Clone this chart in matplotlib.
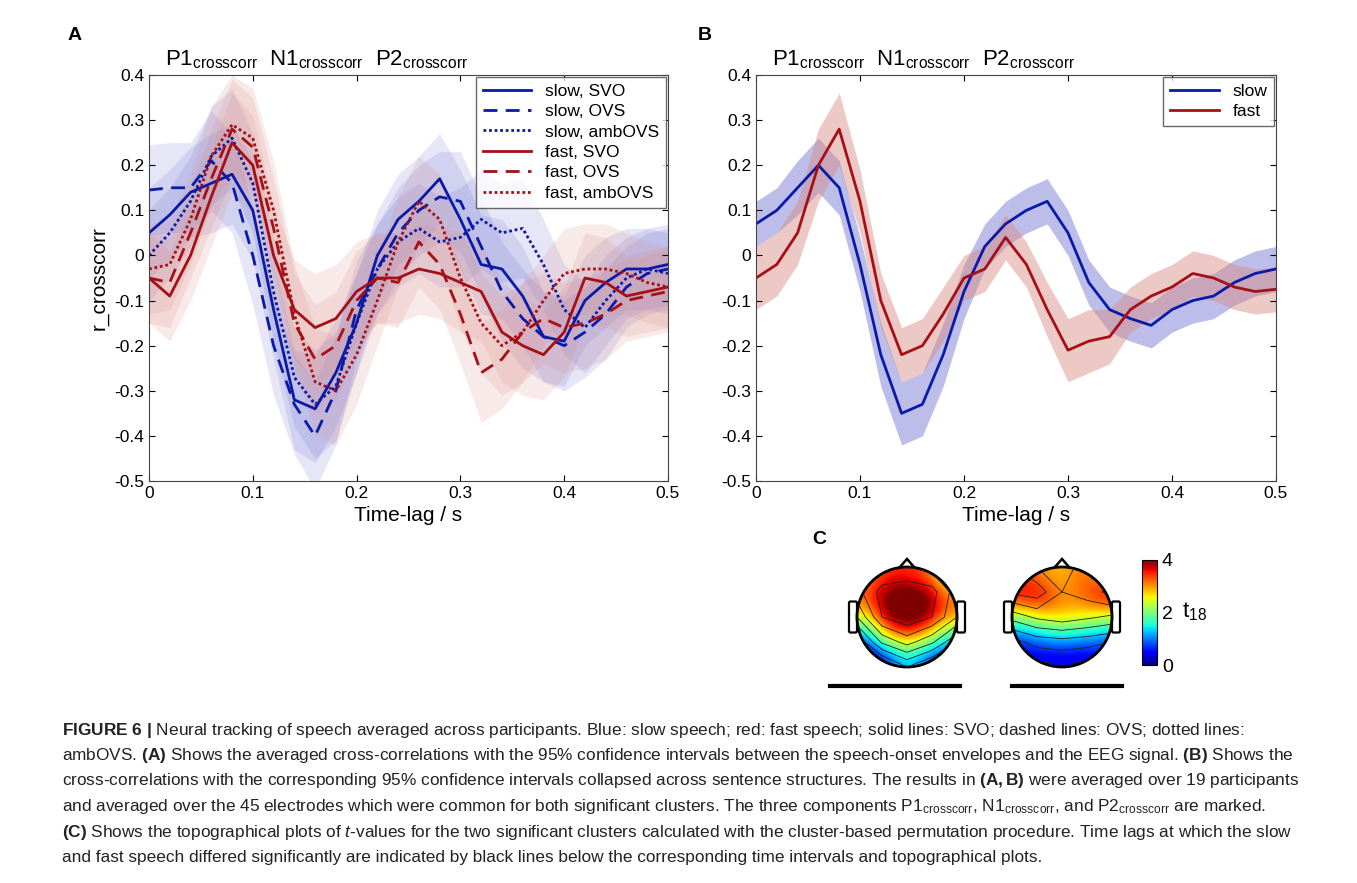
import numpy as np
import matplotlib
matplotlib.use("Agg")
import matplotlib.pyplot as plt
from matplotlib.patches import Circle, Polygon, FancyBboxPatch

plt.rcParams['font.family'] = ['Liberation Sans', 'DejaVu Sans']
plt.rcParams['mathtext.fontset'] = 'custom'
plt.rcParams['mathtext.rm'] = 'Liberation Sans'
plt.rcParams['mathtext.bf'] = 'Liberation Sans:bold'
plt.rcParams['mathtext.it'] = 'Liberation Sans:italic'

# ---------------------------------------------------------------- data
t = [0.00, 0.02, 0.04, 0.06, 0.08, 0.10, 0.12, 0.14, 0.16, 0.18, 0.20, 0.22, 0.24,
     0.26, 0.28, 0.30, 0.32, 0.34, 0.36, 0.38, 0.40, 0.42, 0.44, 0.46, 0.48, 0.50]

slow_svo = [0.05, 0.09, 0.14, 0.16, 0.18, 0.10, -0.12, -0.32, -0.34, -0.26, -0.15, 0.00, 0.08,
            0.12, 0.17, 0.08, -0.02, -0.03, -0.09, -0.18, -0.19, -0.10, -0.06, -0.03, -0.03, -0.02]
slow_ovs = [0.145, 0.15, 0.15, 0.21, 0.16, 0.00, -0.20, -0.33, -0.40, -0.30, -0.12, -0.03, 0.05,
            0.10, 0.13, 0.12, 0.02, -0.08, -0.14, -0.18, -0.20, -0.17, -0.13, -0.07, -0.04, -0.03]
slow_amb = [0.00, 0.05, 0.12, 0.22, 0.26, 0.16, -0.08, -0.27, -0.33, -0.29, -0.15, -0.03, 0.03,
            0.06, 0.03, 0.04, 0.08, 0.05, 0.06, -0.02, -0.12, -0.16, -0.10, -0.05, -0.03, -0.04]
fast_svo = [-0.05, -0.09, 0.00, 0.13, 0.25, 0.20, 0.00, -0.12, -0.16, -0.14, -0.08, -0.05, -0.05,
            -0.03, -0.04, -0.06, -0.08, -0.17, -0.20, -0.22, -0.17, -0.05, -0.06, -0.09, -0.08, -0.07]
fast_ovs = [-0.05, -0.06, 0.05, 0.17, 0.28, 0.24, 0.06, -0.15, -0.23, -0.20, -0.10, -0.05, -0.06,
            0.03, -0.02, -0.13, -0.26, -0.23, -0.17, -0.14, -0.16, -0.15, -0.13, -0.10, -0.09, -0.08]
fast_amb = [-0.03, -0.02, 0.08, 0.22, 0.29, 0.26, 0.10, -0.13, -0.28, -0.30, -0.22, -0.10, 0.03,
            0.12, 0.08, -0.05, -0.15, -0.20, -0.17, -0.10, -0.04, -0.03, -0.03, -0.04, -0.06, -0.07]
ci_a = [0.10, 0.10, 0.10, 0.11, 0.11, 0.11, 0.11, 0.11, 0.12, 0.12, 0.11, 0.10, 0.10,
        0.10, 0.10, 0.11, 0.11, 0.11, 0.11, 0.10, 0.10, 0.10, 0.10, 0.09, 0.09, 0.09]

slow_all = [0.07, 0.10, 0.15, 0.20, 0.15, -0.02, -0.22, -0.35, -0.33, -0.22, -0.08, 0.02, 0.07,
            0.10, 0.12, 0.05, -0.06, -0.12, -0.14, -0.155, -0.12, -0.10, -0.09, -0.06, -0.04, -0.03]
fast_all = [-0.05, -0.02, 0.05, 0.20, 0.28, 0.12, -0.10, -0.22, -0.20, -0.13, -0.05, -0.03, 0.04,
            -0.02, -0.12, -0.21, -0.19, -0.18, -0.12, -0.09, -0.07, -0.04, -0.05, -0.07, -0.08, -0.075]
ci_slow = [0.05, 0.05, 0.06, 0.06, 0.06, 0.06, 0.07, 0.07, 0.07, 0.07, 0.06, 0.05, 0.05,
           0.05, 0.05, 0.05, 0.05, 0.05, 0.05, 0.05, 0.05, 0.05, 0.05, 0.05, 0.05, 0.05]
ci_fast = [0.07, 0.07, 0.07, 0.08, 0.08, 0.07, 0.06, 0.06, 0.06, 0.06, 0.05, 0.05, 0.05,
           0.05, 0.06, 0.07, 0.07, 0.06, 0.05, 0.05, 0.05, 0.05, 0.05, 0.05, 0.05, 0.05]

topo1 = [[3.0, 3.5, 3.5, 3.3, 2.2],
         [3.3, 4.2, 4.4, 4.2, 3.2],
         [2.5, 4.0, 4.4, 4.0, 3.0],
         [1.0, 2.6, 3.2, 2.6, 1.5],
         [0.2, 0.6, 1.5, 0.8, 0.5]]
topo2 = [[3.5, 3.0, 2.8, 3.2, 3.0],
         [3.6, 3.8, 3.0, 3.2, 3.7],
         [2.2, 2.6, 2.8, 2.6, 2.4],
         [0.8, 1.2, 1.3, 1.2, 1.0],
         [0.4, 0.3, 0.4, 0.3, 0.5]]

BLUE = "#0a1aa8"
RED = "#a50f15"
LBLUE = "#6b6fd0"
LRED = "#d98880"

fig = plt.figure(figsize=(13.57, 8.83), dpi=100)
W, H = 1357, 883


def px(x0, y0, x1, y1):
    return [x0 / W, 1 - y1 / H, (x1 - x0) / W, (y1 - y0) / H]


def style_ax(ax):
    ax.set_xlim(0, 0.5)
    ax.set_ylim(-0.5, 0.4)
    ax.set_xticks([0, 0.1, 0.2, 0.3, 0.4, 0.5])
    ax.set_xticklabels(["0", "0.1", "0.2", "0.3", "0.4", "0.5"])
    ax.set_yticks(np.arange(-0.5, 0.41, 0.1))
    ax.set_yticklabels(["-0.5", "-0.4", "-0.3", "-0.2", "-0.1", "0", "0.1", "0.2", "0.3", "0.4"])
    ax.tick_params(labelsize=12.5, direction="in", length=4, top=True, right=True)
    for s in ax.spines.values():
        s.set_color("#444444")
        s.set_linewidth(0.8)
    ax.set_xlabel("Time-lag / s", fontsize=15)
    ax.text(0.03, 1.01, r"P1$_{\mathrm{crosscorr}}$  N1$_{\mathrm{crosscorr}}$  P2$_{\mathrm{crosscorr}}$",
            transform=ax.transAxes, fontsize=16, va="bottom")


tt = np.array(t)
# ---------------------------------------------------------------- A
axA = fig.add_axes(px(149, 75, 668, 481))
ci = np.array(ci_a)
for y, c in [(slow_svo, LBLUE), (slow_ovs, LBLUE), (slow_amb, LBLUE),
             (fast_svo, LRED), (fast_ovs, LRED), (fast_amb, LRED)]:
    y = np.array(y)
    axA.fill_between(tt, y - ci, y + ci, color=c, alpha=0.17, lw=0)
axA.plot(tt, slow_svo, color=BLUE, lw=2, label="slow, SVO")
axA.plot(tt, slow_ovs, color=BLUE, lw=2, ls=(0, (5, 3)), label="slow, OVS")
axA.plot(tt, slow_amb, color=BLUE, lw=2, ls=(0, (1, 1)), label="slow, ambOVS")
axA.plot(tt, fast_svo, color=RED, lw=2, label="fast, SVO")
axA.plot(tt, fast_ovs, color=RED, lw=2, ls=(0, (5, 3)), label="fast, OVS")
axA.plot(tt, fast_amb, color=RED, lw=2, ls=(0, (1, 1)), label="fast, ambOVS")
style_ax(axA)
axA.set_ylabel("r_crosscorr", fontsize=15)
axA.legend(loc="upper right", fontsize=12.5, frameon=True, fancybox=False, edgecolor="#444444",
           handlelength=2.8, borderaxespad=0.1, labelspacing=0.3)

# ---------------------------------------------------------------- B
axB = fig.add_axes(px(756, 75, 1276, 481))
for y, e, c in [(slow_all, ci_slow, LBLUE), (fast_all, ci_fast, LRED)]:
    y = np.array(y)
    e = np.array(e)
    axB.fill_between(tt, y - e, y + e, color=c, alpha=0.45, lw=0)
axB.plot(tt, slow_all, color=BLUE, lw=2, label="slow")
axB.plot(tt, fast_all, color=RED, lw=2, label="fast")
style_ax(axB)
axB.legend(loc="upper right", fontsize=12.5, frameon=True, fancybox=False, edgecolor="#444444",
           handlelength=2.8, borderaxespad=0.1, labelspacing=0.3)

# ---------------------------------------------------------------- C
for data, cx in [(topo1, 907), (topo2, 1062)]:
    ax = fig.add_axes(px(cx - 62, 555, cx + 62, 679))
    ax.set_xlim(-1.24, 1.24)
    ax.set_ylim(-1.24, 1.24)
    ax.axis("off")
    clip = Circle((0, 0), 1.0, transform=ax.transData)
    im = ax.imshow(np.array(data), extent=(-1, 1, -1, 1), cmap="jet", vmin=0, vmax=4,
                   interpolation="bicubic", origin="upper")
    im.set_clip_path(clip)
    g = np.linspace(-1, 1, 5)
    cs = ax.contour(g, g[::-1], np.array(data), levels=[0.5, 1, 1.5, 2, 2.5, 3, 3.5, 4],
                    colors="#222222", linewidths=0.6)
    cs.set_clip_path(clip)
    ax.add_patch(Circle((0, 0), 1.0, fill=False, lw=2, ec="black"))
    ax.add_patch(Polygon([[-0.15, 0.99], [0, 1.16], [0.15, 0.99]], closed=False, fill=False, lw=1.8))
    for x0 in (-1.13, 1.03):
        ax.add_patch(FancyBboxPatch((x0, -0.28), 0.1, 0.56, boxstyle="round,pad=0.03",
                                    fill=False, lw=1.6))

cax = fig.add_axes(px(1142, 560, 1157, 665))
sm = plt.cm.ScalarMappable(cmap="jet", norm=plt.Normalize(0, 4))
cb = fig.colorbar(sm, cax=cax, ticks=[0, 2, 4])
cb.ax.tick_params(labelsize=14, length=0)
cb.outline.set_linewidth(0.8)
fig.text(1182 / W, 1 - 612 / H, r"t$_{18}$", fontsize=16, va="center")

fig.add_artist(plt.Line2D([830 / W, 960 / W], [1 - 686 / H] * 2, color="black", lw=3))
fig.add_artist(plt.Line2D([1012 / W, 1122 / W], [1 - 686 / H] * 2, color="black", lw=3))

# panel letters
fig.text(68 / W, 1 - 35 / H, "A", fontsize=14, fontweight="bold", va="center")
fig.text(698 / W, 1 - 35 / H, "B", fontsize=14, fontweight="bold", va="center")
fig.text(812 / W, 1 - 540 / H, "C", fontsize=14, fontweight="bold", va="center")

# caption
cap = [
    r"$\mathbf{FIGURE\ 6\ |}$ Neural tracking of speech averaged across participants. Blue: slow speech; red: fast speech; solid lines: SVO; dashed lines: OVS; dotted lines:",
    r"ambOVS. $\mathbf{(A)}$ Shows the averaged cross-correlations with the 95% confidence intervals between the speech-onset envelopes and the EEG signal. $\mathbf{(B)}$ Shows the",
    r"cross-correlations with the corresponding 95% confidence intervals collapsed across sentence structures. The results in $\mathbf{(A,B)}$ were averaged over 19 participants",
    r"and averaged over the 45 electrodes which were common for both significant clusters. The three components P1$_{\mathrm{crosscorr}}$, N1$_{\mathrm{crosscorr}}$, and P2$_{\mathrm{crosscorr}}$ are marked.",
    r"$\mathbf{(C)}$ Shows the topographical plots of $\mathit{t}$-values for the two significant clusters calculated with the cluster-based permutation procedure. Time lags at which the slow",
    r"and fast speech differed significantly are indicated by black lines below the corresponding time intervals and topographical plots.",
]
for i, line in enumerate(cap):
    fig.text(62 / W, 1 - (730 + i * 25.5) / H, line, fontsize=12.4, va="center", color="#222222")

fig.savefig("out.png", dpi=100)
